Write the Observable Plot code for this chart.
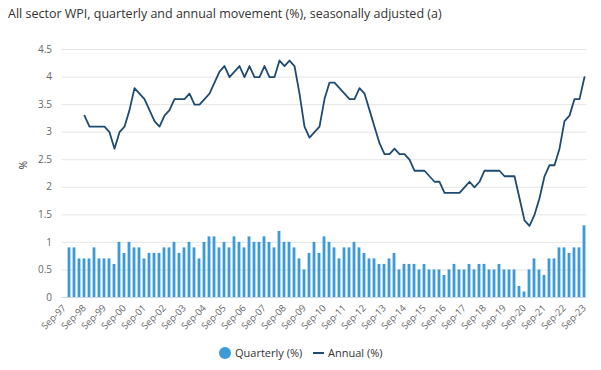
<!DOCTYPE html>
<html><head><meta charset="utf-8">
<script src="https://cdn.jsdelivr.net/npm/d3@7"></script>
<script src="https://cdn.jsdelivr.net/npm/@observablehq/plot@0.6"></script>
<style>
body{margin:0;background:#fff;font-family:"Open Sans",sans-serif;}
#wrap{position:relative;width:601px;height:370px;overflow:hidden;}
#title{position:absolute;left:8px;top:5px;font-size:12.5px;color:#333;white-space:nowrap;}
#chart{position:absolute;left:0;top:30px;}
#ylab{position:absolute;left:19px;top:158px;font-size:10px;color:#333;transform:rotate(-90deg);transform-origin:center;}
.leg{position:absolute;font-size:11px;color:#333;white-space:nowrap;}
</style></head>
<body><div id="wrap">
<div id="title">All sector WPI, quarterly and annual movement (%), seasonally adjusted (a)</div>
<div id="chart"></div>
<div id="ylab">%</div>
<div id="legend"></div>
</div>
<script>
// Category axis: quarters Sep-97 .. Sep-23 (index 0..104); tick labels every 4 quarters
const tickLabels = ["Sep-97","Sep-98","Sep-99","Sep-00","Sep-01","Sep-02","Sep-03","Sep-04","Sep-05","Sep-06","Sep-07","Sep-08","Sep-09","Sep-10","Sep-11","Sep-12","Sep-13","Sep-14","Sep-15","Sep-16","Sep-17","Sep-18","Sep-19","Sep-20","Sep-21","Sep-22","Sep-23"];
// Quarterly movement (%), Dec-97 .. Sep-23
const quarterly = [
0.9,0.9,0.7,0.7,0.7,0.9,0.7,0.7,0.7,0.6,
1.0,0.8,1.0,0.9,0.9,0.7,0.8,0.8,0.8,0.9,
0.9,1.0,0.8,0.9,1.0,0.9,0.7,1.0,1.1,1.1,
0.9,1.0,0.9,1.1,1.0,0.9,1.1,1.0,1.0,1.1,
1.0,0.9,1.2,1.0,1.0,0.9,0.7,0.5,0.8,1.0,
0.8,1.1,
1.0,0.9,0.7,0.9,0.9,1.0,0.9,0.8,0.7,0.7,
0.6,0.6,0.7,0.8,0.5,0.6,0.6,0.6,0.5,0.6,
0.5,0.5,0.5,0.4,0.5,0.6,0.5,0.5,0.6,0.5,
0.6,0.6,0.5,0.5,0.6,0.5,0.5,0.5,0.2,0.1,
0.5,0.7,0.5,0.4,0.7,0.7,0.9,0.9,0.8,0.9,
0.9,1.3];
const quarterlyStart = 1; // Dec-97
// Annual movement (%), Sep-98 .. Sep-23
const annual = [
3.3,3.1,3.1,3.1,3.1,3.0,2.7,3.0,3.1,3.4,
3.8,3.7,3.6,3.4,3.2,3.1,3.3,3.4,3.6,3.6,
3.6,3.7,3.5,3.5,3.6,3.7,3.9,4.1,4.2,4.0,
4.1,4.2,4.0,4.2,4.0,4.0,4.2,4.0,4.0,4.3,
4.2,4.3,4.2,3.7,3.1,2.9,3.0,3.1,3.6,3.9,
3.9,3.8,3.7,3.6,3.6,3.8,3.7,3.4,3.1,2.8,
2.6,2.6,2.7,2.6,2.6,2.5,2.3,2.3,2.3,2.2,
2.1,2.1,1.9,1.9,1.9,1.9,2.0,2.1,2.0,2.1,
2.3,2.3,2.3,2.3,2.2,2.2,2.2,1.8,1.4,1.3,
1.5,1.8,2.2,2.4,2.4,2.7,3.2,3.3,3.6,3.6,
4.0];
const annualStart = 4; // Sep-98
const yTicks = [0,0.5,1,1.5,2,2.5,3,3.5,4,4.5];
const seriesNames = ["Quarterly (%)","Annual (%)"];
const colors = ["#3c9ad6","#1f4a72"];

const qRows = quarterly.map((v,k)=>({i:k+quarterlyStart,v}));
const aRows = annual.map((v,k)=>({i:k+annualStart,v}));
const tickPos = tickLabels.map((_,k)=>k*4);

const chart = Plot.plot({
  width:601, height:310,
  marginLeft:61.5, marginRight:14.5, marginTop:19, marginBottom:43,
  style:{fontFamily:"Open Sans", background:"transparent"},
  x:{type:"linear", domain:[-0.5,104.5]},
  y:{domain:[0,4.5]},
  marks:[
    Plot.gridY(yTicks.slice(1),{stroke:"#e6e6e6", strokeOpacity:1}),
    Plot.rectY(qRows,{x1:d=>d.i-0.28, x2:d=>d.i+0.28, y:"v", fill:colors[0]}),
    Plot.ruleY([0],{stroke:"#ccd6eb"}),
    Plot.line(aRows,{x:"i", y:"v", stroke:colors[1], strokeWidth:1.8}),
    Plot.axisY(yTicks,{tickSize:0, tickPadding:10, label:null, fontSize:10, fill:"#666", tickFormat:d=>String(d)}),
    Plot.axisX(tickPos,{tickSize:0, tickPadding:9, tickRotate:-45, label:null, fontSize:9.5, fill:"#666", tickFormat:i=>tickLabels[i/4]})
  ]
});
document.getElementById("chart").appendChild(chart);

const leg = document.getElementById("legend");
leg.innerHTML =
 `<div style="position:absolute;left:219px;top:347px;width:12px;height:12px;border-radius:6px;background:${colors[0]}"></div>`+
 `<div class="leg" style="left:235px;top:345px">${seriesNames[0]}</div>`+
 `<div style="position:absolute;left:313px;top:352px;width:11px;height:2px;background:${colors[1]}"></div>`+
 `<div class="leg" style="left:328px;top:345px">${seriesNames[1]}</div>`;
</script>
</body></html>
